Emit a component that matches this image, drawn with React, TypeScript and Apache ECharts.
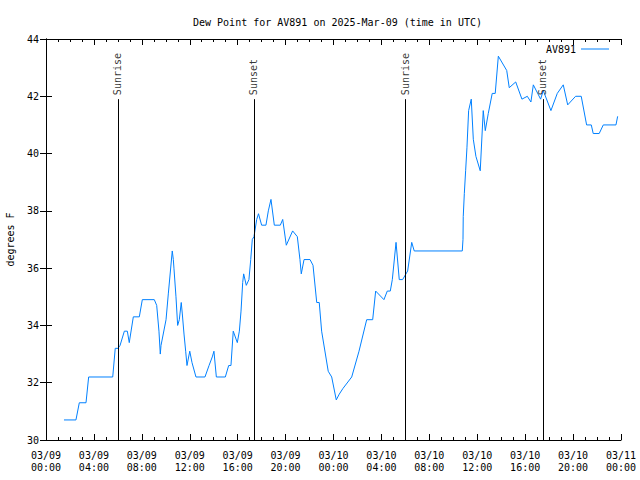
import React, { useEffect, useRef } from "react";
import * as echarts from "echarts";

// hours since 2025-03-09 00:00 UTC
const hours = [
  1.5, 2.5, 2.78, 3.34, 3.56, 5.57, 5.78, 6.01, 6.18, 6.54, 6.79, 6.95, 7.29, 7.79, 8.04, 9.04,
  9.24, 9.43, 9.54, 9.6, 10.02, 10.21, 10.54, 10.63, 10.68, 10.85, 10.99, 11.13, 11.29, 11.38,
  11.52, 11.66, 11.77, 12.0, 12.19, 12.52, 13.27, 13.61, 13.88, 14.02, 14.22, 14.97, 15.25, 15.44,
  15.63, 15.97, 16.14, 16.28, 16.42, 16.5, 16.72, 16.94, 17.09, 17.22, 17.36, 17.59, 17.74, 18.0,
  18.36, 18.56, 18.78, 19.06, 19.56, 19.76, 20.06, 20.59, 20.98, 21.2, 21.31, 21.54, 22.04, 22.29,
  22.6, 22.81, 23.01, 23.56, 23.85, 24.23, 24.48, 24.79, 25.52, 26.13, 26.77, 27.27, 27.52, 28.21,
  28.49, 28.74, 28.91, 29.22, 29.49, 29.77, 30.19, 30.53, 30.74, 34.75, 34.81, 34.83, 34.92, 35.03,
  35.14, 35.28, 35.5, 35.67, 35.89, 36.25, 36.5, 36.67, 36.92, 37.25, 37.5, 37.76, 38.46, 38.67,
  39.21, 39.73, 40.18, 40.48, 40.68, 41.29, 41.51, 42.15, 42.68, 43.18, 43.55, 44.21, 44.68, 45.13,
  45.52, 45.68, 46.18, 46.52, 47.58, 47.72,
];

const dewPoint = [
  30.7, 30.7, 31.3, 31.3, 32.2, 32.2, 33.2, 33.2, 33.3, 33.8, 33.8, 33.4, 34.3, 34.3, 34.9, 34.9,
  34.7, 33.8, 33.0, 33.3, 34.2, 35.1, 36.6, 36.3, 36.0, 35.0, 34.0, 34.2, 34.8, 34.4,
  33.7, 33.1, 32.6, 33.1, 32.7, 32.2, 32.2, 32.6, 32.9, 33.1, 32.2, 32.2, 32.6, 32.6,
  33.8, 33.4, 33.8, 34.5, 35.5, 35.8, 35.4, 35.6, 36.3, 37.0, 37.1, 37.7, 37.9, 37.5,
  37.5, 38.0, 38.4, 37.5, 37.5, 37.7, 36.8, 37.3, 37.1, 36.3, 35.8, 36.3, 36.3, 36.1,
  34.8, 34.8, 33.8, 32.4, 32.2, 31.4, 31.6, 31.8, 32.2, 33.1, 34.2, 34.2, 35.2, 34.9,
  35.2, 35.2, 35.6, 36.9, 35.6, 35.6, 35.9, 36.9, 36.6, 36.6, 37.0, 37.8, 38.6, 39.4,
  40.2, 41.5, 41.9, 40.5, 39.9, 39.4, 41.5, 40.8, 41.4, 42.1, 42.1, 43.4, 42.9, 42.3,
  42.5, 41.9, 42.0, 41.8, 42.4, 41.9, 42.2, 41.5, 42.1, 42.4, 41.7, 42.0, 42.0, 41.0,
  41.0, 40.7, 40.7, 41.0, 41.0, 41.3,
];

const sunEventHours = [6.01, 17.36, 30.0, 41.47];
const sunEventLabels = ["Sunrise", "Sunset", "Sunrise", "Sunset"];

const yTicks = { min: 30, max: 44, interval: 2 };
const xTicks = { min: 0, max: 48, interval: 4 };
const seriesName = "AV891";
const chartTitle = "Dew Point for AV891 on 2025-Mar-09 (time in UTC)";
const yName = "degrees F";

const FONT = "DejaVu Sans Mono";

function fmtX(v: number): string {
  const day = 9 + Math.floor(v / 24);
  const h = Math.round(v % 24);
  const dd = String(day).padStart(2, "0");
  const hh = String(h).padStart(2, "0");
  return `03/${dd}\n${hh}:00`;
}

export default function App() {
  const ref = useRef<HTMLDivElement>(null);
  useEffect(() => {
    if (!ref.current) return;
    const chart = echarts.init(ref.current, undefined, { renderer: "svg" });
    const lineTop = yTicks.min + 0.85 * (yTicks.max - yTicks.min);
    const labelY = yTicks.min + 0.86 * (yTicks.max - yTicks.min);
    const axisLine = { show: true, lineStyle: { color: "#000", width: 1 } };
    const xCommon = {
      type: "value" as const,
      min: xTicks.min,
      max: xTicks.max,
      interval: xTicks.interval,
      axisLine,
      axisTick: { show: true, inside: true, length: 6, lineStyle: { color: "#000" } },
      minorTick: { show: true, splitNumber: 4, length: 3, lineStyle: { color: "#000" } },
      splitLine: { show: false },
    };
    const yCommon = {
      type: "value" as const,
      min: yTicks.min,
      max: yTicks.max,
      interval: yTicks.interval,
      axisLine,
      axisTick: { show: true, inside: true, length: 6, lineStyle: { color: "#000" } },
      splitLine: { show: false },
    };
    chart.setOption({
      animation: false,
      backgroundColor: "#fff",
      title: {
        text: chartTitle,
        left: 188,
        top: 12,
        textStyle: { fontFamily: FONT, fontSize: 10, fontWeight: "normal", color: "#000" },
      },
      legend: {
        data: [seriesName],
        right: 26,
        top: 39,
        align: "right",
        icon: "rect",
        itemWidth: 28,
        itemHeight: 1,
        itemGap: 6,
        textStyle: { fontFamily: FONT, fontSize: 10, color: "#000" },
      },
      grid: { left: 46, right: 19, top: 39, bottom: 40, containLabel: false, outerBoundsMode: "none" },
      xAxis: [
        {
          ...xCommon,
          position: "bottom",
          axisLabel: {
            show: true,
            formatter: (v: number) => fmtX(v),
            fontFamily: FONT,
            fontSize: 10,
            color: "#000",
            lineHeight: 12,
            margin: 9,
          },
        },
        {
          ...xCommon,
          position: "top",
          axisLabel: { show: false },
        },
      ],
      yAxis: [
        {
          ...yCommon,
          position: "left",
          name: yName,
          nameLocation: "middle",
          nameGap: 31,
          nameRotate: 90,
          nameTextStyle: { fontFamily: FONT, fontSize: 10, color: "#000" },
          axisLabel: { show: true, fontFamily: FONT, fontSize: 10, color: "#000", margin: 7 },
        },
        {
          ...yCommon,
          position: "right",
          axisLabel: { show: false },
        },
      ],
      series: [
        {
          name: seriesName,
          type: "line",
          xAxisIndex: 0,
          yAxisIndex: 0,
          symbol: "none",
          showSymbol: false,
          lineStyle: { color: "#0080ff", width: 1 },
          itemStyle: { color: "#0080ff" },
          data: hours.map((h, i) => [h, dewPoint[i]]),
          markLine: {
            silent: true,
            symbol: "none",
            label: { show: false },
            lineStyle: { color: "#000", width: 1, type: "solid" },
            data: sunEventHours.map((h) => [
              { coord: [h, yTicks.min] },
              { coord: [h, lineTop] },
            ]),
          },
          z: 3,
        },
        {
          name: "sun-events",
          type: "scatter",
          xAxisIndex: 0,
          yAxisIndex: 0,
          symbolSize: 0,
          silent: true,
          data: sunEventHours.map((h, i) => ({ value: [h, labelY], name: sunEventLabels[i] })),
          label: {
            show: true,
            formatter: (p: any) => p.name,
            position: [0, 0],
            rotate: 90,
            align: "left",
            verticalAlign: "middle",
            fontFamily: FONT,
            fontSize: 10,
            color: "#000",
          },
          z: 4,
        },
      ],
    });
    return () => chart.dispose();
  }, []);
  return <div ref={ref} style={{ width: 640, height: 480, position: "absolute", left: 0, top: 0 }} />;
}
